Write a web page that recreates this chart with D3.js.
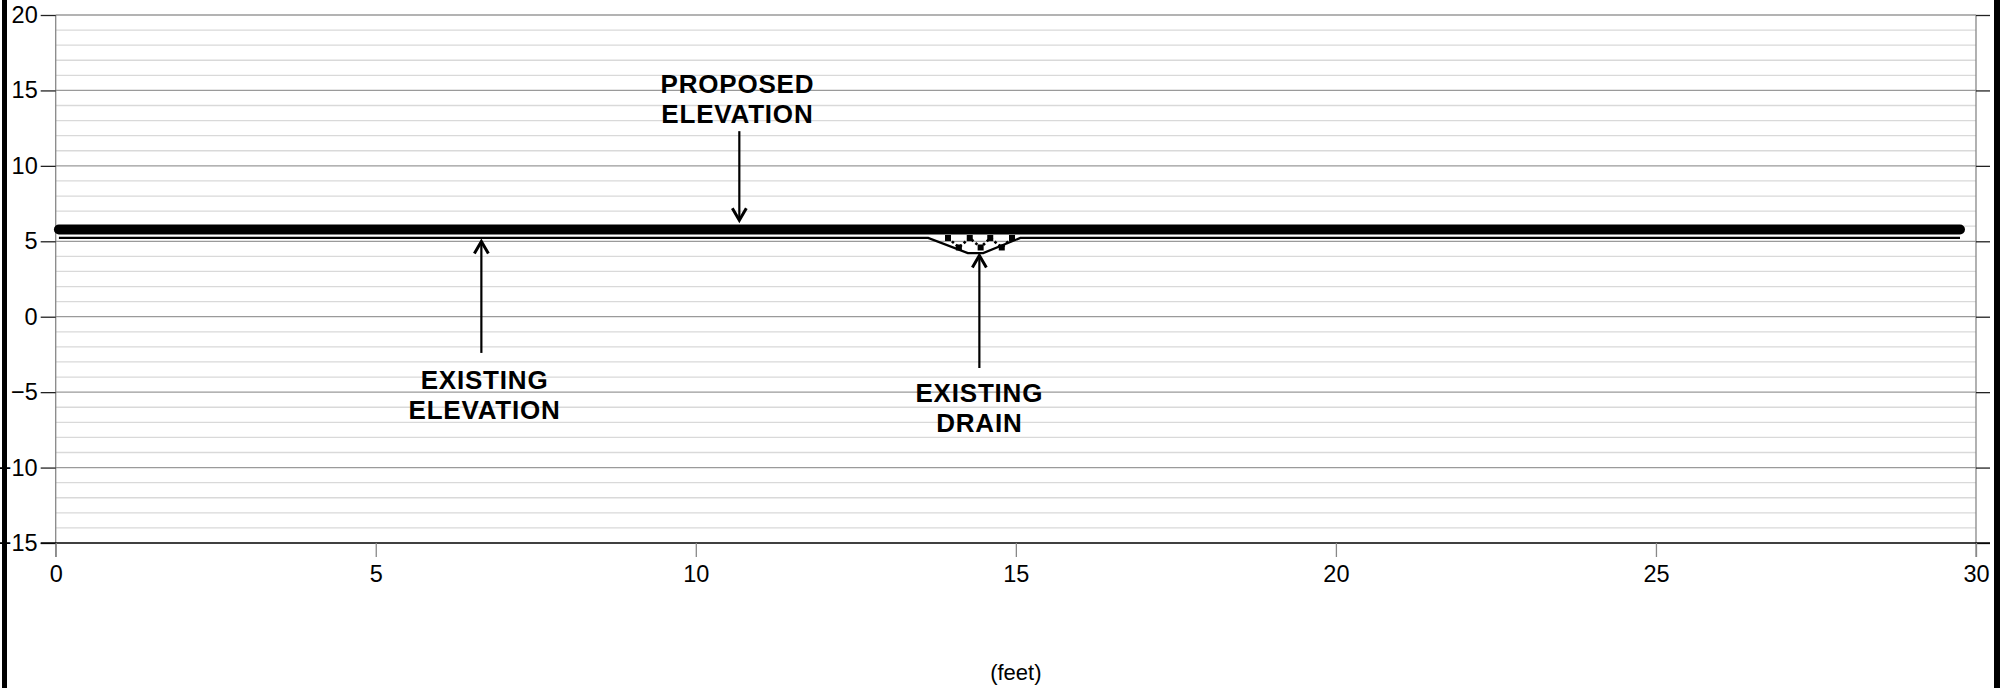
<!DOCTYPE html>
<html><head><meta charset="utf-8">
<script src="https://cdn.jsdelivr.net/npm/d3@7"></script>
<style>
html,body{margin:0;padding:0;background:#fff;}
svg{display:block;font-family:"Liberation Sans",Arial,sans-serif;}
</style></head>
<body>
<svg id="chart" width="2013" height="688"></svg>
<script>
// ---- data ----
const yTicks = [20, 15, 10, 5, 0, -5, -10, -15];
const xTicks = [0, 5, 10, 15, 20, 25, 30];
const yMinor = d3.range(-14, 20, 1).filter(v => v % 5 !== 0);
const proposedX = [0.05, 29.75];
const proposedY = [5.78, 5.78];
const existingX = [0.05, 13.63, 14.25, 14.49, 15.07, 29.75];
const existingY = [5.22, 5.22, 4.22, 4.22, 5.22, 5.22];
const drainX = [13.94, 14.11, 14.28, 14.45, 14.6, 14.78, 14.94];
const drainY = [5.22, 4.59, 5.22, 4.59, 5.22, 4.59, 5.22];
const xLabel = "(feet)";
const annotations = [
  {lines: ["PROPOSED", "ELEVATION"], tx: 10.65, ty: 14.83, ax: 10.68, from: 12.3, to: 6.4},
  {lines: ["EXISTING", "ELEVATION"], tx: 6.7, ty: -4.79, ax: 6.65, from: -2.4, to: 4.98},
  {lines: ["EXISTING", "DRAIN"], tx: 14.43, ty: -5.65, ax: 14.43, from: -3.4, to: 4.06}
];

// ---- scales ----
const svg = d3.select("#chart");
const x = d3.scaleLinear().domain([0, 30]).range([55.7, 1976]);
const y = d3.scaleLinear().domain([-15, 20]).range([543, 15]);

// minor gridlines
svg.append("g").selectAll("line").data(yMinor).join("line")
  .attr("x1", x(0)).attr("x2", x(30))
  .attr("y1", d => y(d)).attr("y2", d => y(d))
  .attr("stroke", "#d9d9d9").attr("stroke-width", 1.3);
// major gridlines
svg.append("g").selectAll("line").data(yTicks.filter(v => v !== -15)).join("line")
  .attr("x1", x(0)).attr("x2", x(30))
  .attr("y1", d => y(d)).attr("y2", d => y(d))
  .attr("stroke", "#9a9a9a").attr("stroke-width", 1.3);

// left axis
const yAxisL = d3.axisLeft(y).tickValues(yTicks).tickSize(15).tickPadding(3).tickFormat(d3.format("d"));
const gL = svg.append("g").attr("transform", `translate(${x(0)},0)`).call(yAxisL);
gL.select(".domain").attr("stroke", "#888").attr("stroke-width", 1.3).attr("d", `M0,${y(20)}V${y(-15)+14}`);
gL.selectAll(".tick line").attr("stroke", "#222").attr("stroke-width", 1.3);
gL.selectAll(".tick text").attr("font-size", 23.5).attr("fill", "#000")
  .attr("font-family", "Liberation Sans, Arial, sans-serif");

// right axis
const yAxisR = d3.axisRight(y).tickValues(yTicks).tickSize(14).tickFormat("");
const gR = svg.append("g").attr("transform", `translate(${x(30)},0)`).call(yAxisR);
gR.select(".domain").attr("stroke", "#888").attr("stroke-width", 1.3).attr("d", `M0,${y(20)}V${y(-15)+14}`);
gR.selectAll(".tick line").attr("stroke", "#222").attr("stroke-width", 1.3);

// bottom axis
const xAxis = d3.axisBottom(x).tickValues(xTicks).tickSize(14).tickPadding(8).tickFormat(d3.format("d"));
const gB = svg.append("g").attr("transform", `translate(0,${y(-15)})`).call(xAxis);
gB.select(".domain").attr("stroke", "#000").attr("stroke-width", 1.3).attr("d", `M${x(0)-15},0H${x(30)+14}`);
gB.selectAll(".tick line").attr("stroke", "#888").attr("stroke-width", 1.3);
gB.selectAll(".tick text").attr("font-size", 23.5).attr("fill", "#000")
  .attr("font-family", "Liberation Sans, Arial, sans-serif");

svg.append("text").attr("x", (x(0)+x(30))/2).attr("y", 680)
  .attr("text-anchor", "middle").attr("font-size", 22).text(xLabel);

// series
const line = d3.line().x(d => x(d[0])).y(d => y(d[1]));
svg.append("path").datum(existingX.map((v, i) => [v, existingY[i]]))
  .attr("d", line).attr("fill", "none").attr("stroke", "#000").attr("stroke-width", 2.2);
svg.append("path").datum(drainX.map((v, i) => [v, drainY[i]]))
  .attr("d", line).attr("fill", "none").attr("stroke", "#000").attr("stroke-width", 2.6)
  .attr("stroke-dasharray", "2.6,2.6");
svg.append("g").selectAll("rect").data(drainX.map((v, i) => [v, drainY[i]])).join("rect")
  .attr("x", d => x(d[0]) - 3).attr("y", d => y(d[1]) - 3)
  .attr("width", 6).attr("height", 6).attr("fill", "#000");
svg.append("path").datum(proposedX.map((v, i) => [v, proposedY[i]]))
  .attr("d", line).attr("fill", "none").attr("stroke", "#000").attr("stroke-width", 10)
  .attr("stroke-linecap", "round");

// annotations
annotations.forEach(a => {
  const t = svg.append("text").attr("text-anchor", "middle").attr("font-weight", "bold")
    .attr("font-size", 26).attr("letter-spacing", 0.8).attr("fill", "#000");
  a.lines.forEach((s, i) => t.append("tspan").attr("x", x(a.tx)).attr("y", y(a.ty) + i * 30).text(s));
  const ax = x(a.ax), y1 = y(a.from), y2 = y(a.to);
  svg.append("line").attr("x1", ax).attr("x2", ax).attr("y1", y1).attr("y2", y2)
    .attr("stroke", "#000").attr("stroke-width", 2.2);
  const dir = y2 > y1 ? -1 : 1;
  svg.append("path")
    .attr("d", `M${ax-7},${y2 + dir*12}L${ax},${y2}L${ax+7},${y2 + dir*12}`)
    .attr("fill", "none").attr("stroke", "#000").attr("stroke-width", 3).attr("stroke-linejoin", "miter");
});

// frame bars
svg.append("rect").attr("x", 2).attr("y", 0).attr("width", 5).attr("height", 688).attr("fill", "#000");
svg.append("rect").attr("x", 1994).attr("y", 0).attr("width", 6).attr("height", 688).attr("fill", "#000");
</script>
</body></html>
